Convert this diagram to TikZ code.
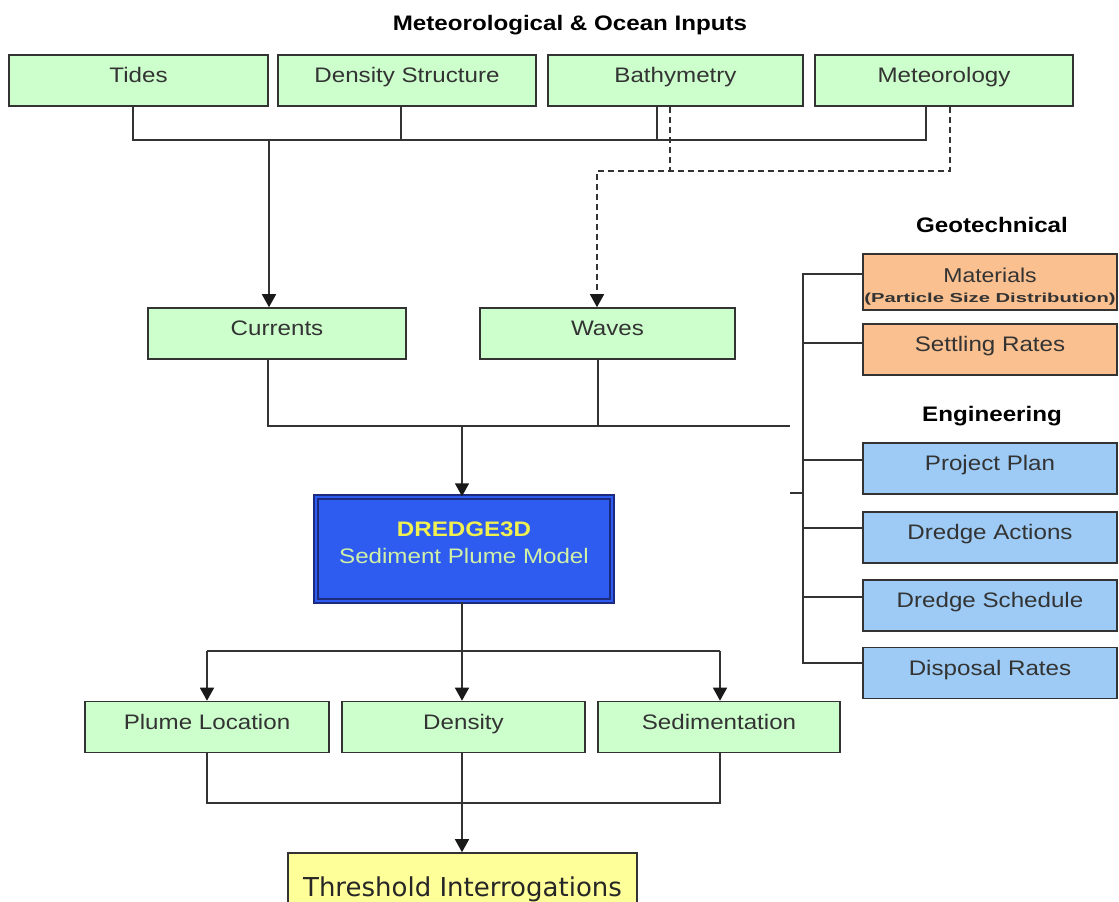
\documentclass[tikz,border=0pt]{standalone}
\usepackage{fontspec}
\setmainfont[FakeStretch=1.15]{Liberation Sans}
\newfontfamily\thrfont{DejaVu Sans}
\usetikzlibrary{arrows.meta,calc}
\definecolor{gfill}{HTML}{CCFFCC}
\definecolor{ofill}{HTML}{FAC090}
\definecolor{bfill}{HTML}{9DCBF5}
\definecolor{dfill}{HTML}{2E5CF0}
\definecolor{dborder}{HTML}{1C2A80}
\definecolor{dyellow}{HTML}{F0F050}
\definecolor{dgreen}{HTML}{D0F0A8}
\definecolor{yfill}{HTML}{FFFF99}
\definecolor{edge}{HTML}{333333}
\definecolor{txt}{HTML}{333333}
\begin{document}
\begin{tikzpicture}[x=1pt,y=-1pt,
  boxbase/.style={draw=edge,line width=1.6pt,rectangle,inner sep=0pt,text=txt,
    font=\fontsize{21}{25}\selectfont},
  onebox/.style={boxbase,text height=13pt,text depth=9pt},
  gbox/.style={onebox,fill=gfill,minimum width=#1,minimum height=51pt},
  obox/.style={boxbase,fill=ofill,minimum width=254pt,minimum height=51pt},
  bbox/.style={onebox,fill=bfill,minimum width=254pt,minimum height=51pt},
  grouptitle/.style={anchor=base,font=\fontsize{21}{25}\selectfont\bfseries,text=black,inner sep=0pt},
  ln/.style={draw=edge,line width=1.5pt},
  tip/.style={-{Triangle[width=14pt,length=13pt,fill=black!90,color=black!90]}},
  arr/.style={ln,tip},
  dln/.style={ln,dash pattern=on 6pt off 4pt}]
\useasboundingbox (0,0) rectangle (1119,902);
\begin{scope}
\clip (0,0) rectangle (1119,902);
% titles
\node[grouptitle] (tmet) at (570,30) {Meteorological \& Ocean Inputs};
\node[grouptitle] (tgeo) at (992,232) {Geotechnical};
\node[grouptitle] (teng) at (992,421) {Engineering};
% top row
\node[gbox=259pt] (tides) at (138.5,80.5) {Tides};
\node[gbox=258pt] (dens) at (407,80.5) {Density Structure};
\node[gbox=255pt] (bath) at (675.5,80.5) {Bathymetry};
\node[gbox=258pt] (met) at (944,80.5) {Meteorology};
% second row
\node[gbox=258pt] (cur) at (277,333.5) {Currents};
\node[gbox=255pt] (wav) at (607.5,333.5) {Waves};
% right column
\node[obox] (mat) at (990,282) {\raisebox{0pt}[\dimexpr\height+11pt\relax][\depth]{\begin{tabular}{@{}c@{}}\fontsize{20}{24}\selectfont Materials\\[-5pt]\scalebox{1.35}[1]{\fontsize{13}{14}\selectfont\bfseries (Particle Size Distribution)}\end{tabular}}};
\node[obox,onebox] (set) at (990,349.5) {Settling Rates};
\node[bbox] (pp) at (990,468.5) {Project Plan};
\node[bbox] (da) at (990,537.5) {Dredge Actions};
\node[bbox] (ds) at (990,605.5) {Dredge Schedule};
\node[bbox] (dr) at (990,673) {Disposal Rates};
% model
\node[rectangle,inner sep=0pt,minimum width=296pt,minimum height=104pt,
  draw=dborder,line width=1.4pt,double=dfill,double distance=2.5pt,fill=dfill,
  font=\fontsize{21}{25}\selectfont] (dredge) at (464,549)
  {\raisebox{0pt}[\height][\dimexpr\depth+9pt\relax]{\begin{tabular}{@{}c@{}}\textcolor{dyellow}{\bfseries DREDGE3D}\\[2pt]\textcolor{dgreen}{Sediment Plume Model}\end{tabular}}};
% outputs
\node[gbox=244pt] (plume) at (207,727) {Plume Location};
\node[gbox=243pt] (dens2) at (463.5,727) {Density};
\node[gbox=242pt] (sedi) at (719,727) {Sedimentation};
\node[boxbase,fill=yfill,minimum width=349pt,minimum height=62pt,
  font=\thrfont\fontsize{26}{30}\selectfont,text=black!85,text height=24pt,text depth=0pt] (thr) at (462.5,884) {Threshold Interrogations};
% top bus
\coordinate (d1) at ([xshift=-5.5pt]tides.south);
\coordinate (d2) at ([xshift=-6pt]dens.south);
\coordinate (d3) at ([xshift=-18.5pt]bath.south);
\coordinate (d4) at ([xshift=-18pt]met.south);
\coordinate (busA) at (0,140);
\draw[ln] (d1) |- (d4 |- busA) -- (d4);
\draw[ln] (d2) -- (d2 |- busA);
\draw[ln] (d3) -- (d3 |- busA);
\coordinate (ci) at ([xshift=-8pt]cur.north);
\draw[arr] (ci |- busA) -- (ci);
% dashed bus
\coordinate (e1) at ([xshift=-5.5pt]bath.south);
\coordinate (e2) at ([xshift=6pt]met.south);
\coordinate (wi) at ([xshift=-10.5pt]wav.north);
\coordinate (busB) at (0,171);
\draw[dln] (e1) -- (e1 |- busB);
\draw[dln,tip] (e2) |- (wi |- busB) -- (wi);
% middle bus
\coordinate (c1) at ([xshift=-9pt]cur.south);
\coordinate (w1) at ([xshift=-9.5pt]wav.south);
\coordinate (busC) at (790,426);
\draw[ln] (c1) |- (busC);
\draw[ln] (w1) -- (w1 |- busC);
\coordinate (di) at ([xshift=-2pt]dredge.north);
\draw[arr] (di |- busC) -- (di);
% right bracket
\coordinate (rx) at (803,0);
\coordinate (mt) at ([yshift=8pt]mat.west);
\coordinate (st) at ([yshift=6.5pt]set.west);
\coordinate (pt) at ([yshift=8.5pt]pp.west);
\coordinate (at) at ([yshift=9.5pt]da.west);
\coordinate (sct) at ([yshift=8.5pt]ds.west);
\coordinate (rt) at ([yshift=10pt]dr.west);
\draw[ln] (mt) -| (rx |- rt) -- (rt);
\draw[ln] (st) -- (st -| rx);
\draw[ln] (pt) -- (pt -| rx);
\draw[ln] (at) -- (at -| rx);
\draw[ln] (sct) -- (sct -| rx);
\coordinate (sk) at (790,493);
\draw[ln] (sk) -- (sk -| rx);
% outputs bus
\coordinate (dob) at ([xshift=-2pt]dredge.south);
\coordinate (busD) at (0,651);
\coordinate (pn) at (plume.north);
\coordinate (dn) at ([xshift=-1.5pt]dens2.north);
\coordinate (sn) at ([xshift=1pt]sedi.north);
\draw[ln] (dob) -- (dob |- busD);
\draw[ln] (pn |- busD) -- (sn |- busD);
\draw[arr] (pn |- busD) -- (pn);
\draw[arr] (dn |- busD) -- (dn);
\draw[arr] (sn |- busD) -- (sn);
% bottom bus
\coordinate (busE) at (0,803);
\coordinate (ds2) at ([xshift=-1.5pt]dens2.south);
\coordinate (ss) at ([xshift=1pt]sedi.south);
\draw[ln] (plume.south) |- (ss |- busE) -- (ss);
\draw[arr] (ds2) -- (ds2 |- thr.north);
\end{scope}
\end{tikzpicture}
\end{document}
